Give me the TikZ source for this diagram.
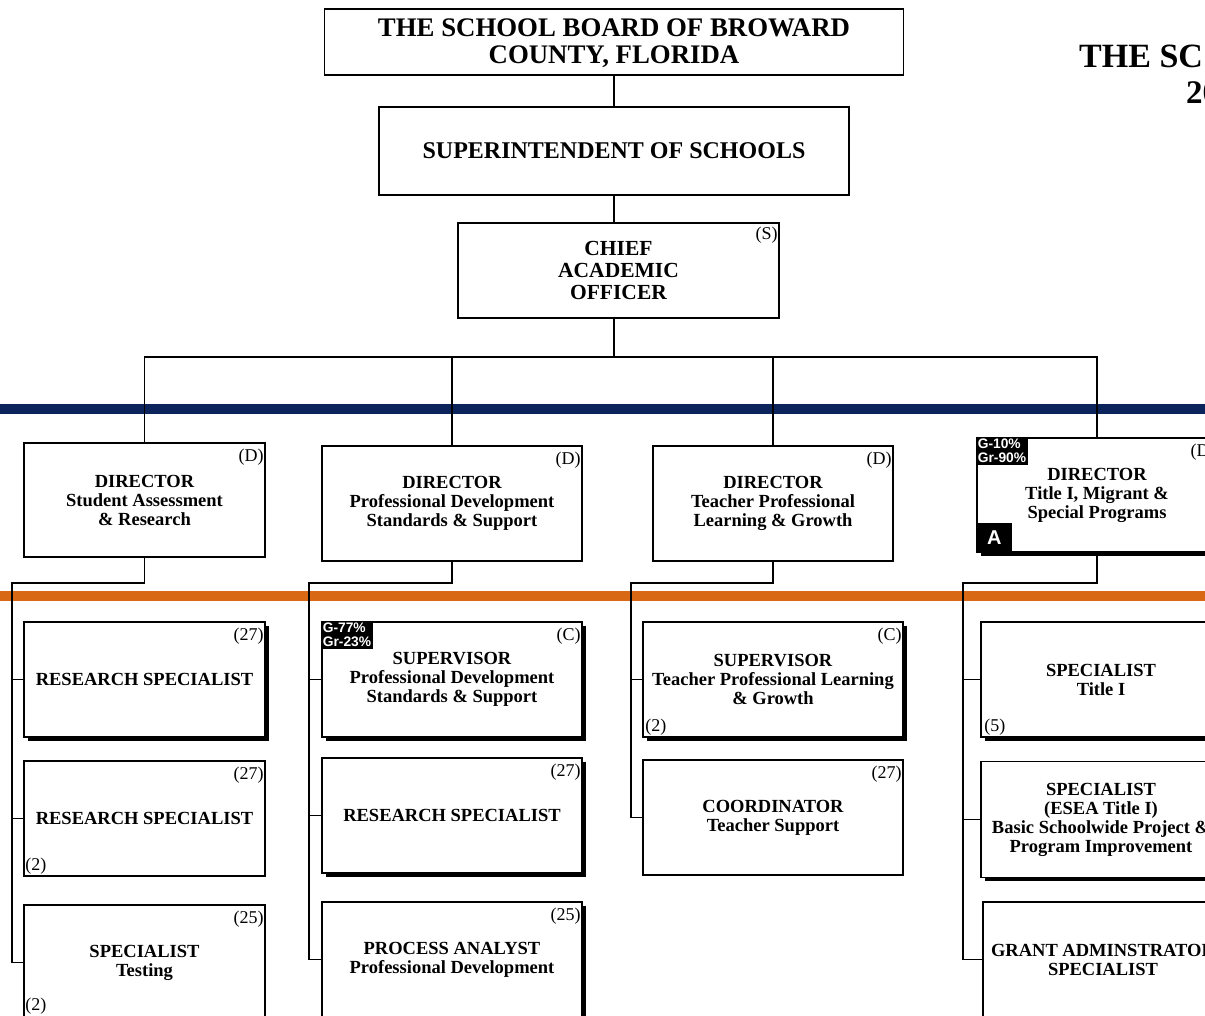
\documentclass[tikz,border=0pt]{standalone}
\usepackage{fontspec}
\setmainfont{Liberation Serif}
\newfontfamily\lsans{Liberation Sans}
\usetikzlibrary{shadows}
\definecolor{navyband}{RGB}{12,36,92}
\definecolor{orangeband}{RGB}{217,104,20}
\tikzset{
  bx/.style={draw, line width=1.8pt, fill=white, inner sep=0pt, align=center,
    font=\bfseries\fontsize{18.5}{19}\selectfont},
  shd/.style={drop shadow={shadow xshift=3.5pt, shadow yshift=-3.5pt, fill=black, opacity=1}},
  tag/.style={inner xsep=2pt, inner ysep=2pt, font=\fontsize{18}{18}\selectfont},
  tagtr/.style={tag, anchor=north east, yshift=-5pt},
  tagbl/.style={tag, anchor=south west},
  conn/.style={line width=1.8pt},
  pct/.style={fill=black, text=white, inner xsep=1.5pt, inner ysep=1.5pt, align=left,
    font=\lsans\bfseries\fontsize{13.8}{14.5}\selectfont},
  abox/.style={fill=black, text=white, minimum width=36pt, minimum height=30pt, inner sep=0pt,
    font=\lsans\bfseries\fontsize{20}{20}\selectfont},
}
\begin{document}
\begin{tikzpicture}[x=1pt,y=-1pt]
\useasboundingbox (0,0) rectangle (1205,1016);
\clip (0,0) rectangle (1205,1016);
\fill[white] (0,0) rectangle (1205,1016);

% colour bands
\fill[navyband] (0,403.5) rectangle (1205,413.5);
\fill[orangeband] (0,591) rectangle (1205,601);

% top title (cut off at the right edge)
\node[anchor=west, inner sep=0pt, font=\bfseries\fontsize{34}{34}\selectfont] (ttl1) at (1079,56) {THE SC};
\node[anchor=west, inner sep=0pt, font=\bfseries\fontsize{33}{33}\selectfont] (ttl2) at (1186,93) {20};

% top chain
\node[bx, minimum width=579, minimum height=66] (board) at (614,42) {};
\node[inner sep=0pt, align=center, font=\bfseries\fontsize{26.8}{27}\selectfont] (boardtxt) at (614,43.5)
  {THE SCHOOL BOARD OF BROWARD\\COUNTY, FLORIDA};
\node[bx, minimum width=470, minimum height=88, font=\bfseries\fontsize{24}{26}\selectfont] (supt) at (614,151)
  {SUPERINTENDENT OF SCHOOLS};
\node[bx, minimum width=321, minimum height=95, font=\bfseries\fontsize{21.5}{22}\selectfont] (cao) at (618.5,270.5)
  {CHIEF\\ACADEMIC\\OFFICER};
\node[tag, anchor=north east, yshift=-3pt] (caot) at (cao.north east) {(S)};

% directors
\node[bx, minimum width=241, minimum height=114] (d1) at (144.5,500)
  {DIRECTOR\\Student Assessment\\\& Research};
\node[tagtr] (d1t) at (d1.north east) {(D)};
\node[bx, minimum width=260, minimum height=115] (d2) at (452,503.5)
  {DIRECTOR\\Professional Development\\Standards \& Support};
\node[tagtr] (d2t) at (d2.north east) {(D)};
\node[bx, minimum width=240, minimum height=115] (d3) at (773,503.5)
  {DIRECTOR\\Teacher Professional\\Learning \& Growth};
\node[tagtr] (d3t) at (d3.north east) {(D)};
\node[bx, shd, minimum width=240, minimum height=114] (d4) at (1097,495)
  {DIRECTOR\\Title I, Migrant \&\\Special Programs};
\node[tagtr] (d4t) at (d4.north east) {(D)};
\node[pct, anchor=north west] (d4p) at (d4.north west) {G-10\%\\Gr-90\%};
\node[abox, anchor=south west] (d4a) at (d4.south west) {A};

% column 1 children
\node[bx, shd, minimum width=241, minimum height=115] (c11) at (144.5,679.5) {RESEARCH SPECIALIST};
\node[tagtr] (c11t) at (c11.north east) {(27)};
\node[bx, minimum width=241, minimum height=115] (c12) at (144.5,818.5) {RESEARCH SPECIALIST};
\node[tagtr] (c12t) at (c12.north east) {(27)};
\node[tagbl] (c12b) at (c12.south west) {(2)};
\node[bx, minimum width=241, minimum height=115] (c13) at (144.5,962.5) {SPECIALIST\\Testing};
\node[tagtr] (c13t) at (c13.north east) {(25)};
\node[tagbl, yshift=4pt] (c13b) at (c13.south west) {(2)};

% column 2 children
\node[bx, shd, minimum width=260, minimum height=115] (c21) at (452,679.5)
  {SUPERVISOR\\Professional Development\\Standards \& Support};
\node[tagtr] (c21t) at (c21.north east) {(C)};
\node[pct, anchor=north west] (c21p) at (c21.north west) {G-77\%\\Gr-23\%};
\node[bx, shd, minimum width=260, minimum height=115] (c22) at (452,815.5) {RESEARCH SPECIALIST};
\node[tagtr] (c22t) at (c22.north east) {(27)};
\node[bx, shd, minimum width=260, minimum height=115] (c23) at (452,959.5)
  {PROCESS ANALYST\\Professional Development};
\node[tagtr] (c23t) at (c23.north east) {(25)};

% column 3 children
\node[bx, shd, minimum width=260, minimum height=115] (c31) at (773,679.5)
  {SUPERVISOR\\Teacher Professional Learning\\\& Growth};
\node[tagtr] (c31t) at (c31.north east) {(C)};
\node[tagbl, inner xsep=3pt] (c31b) at (c31.south west) {(2)};
\node[bx, minimum width=260, minimum height=115] (c32) at (773,817.5)
  {COORDINATOR\\Teacher Support};
\node[tagtr] (c32t) at (c32.north east) {(27)};

% column 4 children
\node[bx, shd, minimum width=240, minimum height=115] (c41) at (1101,679.5) {SPECIALIST\\Title I};
\node[tagtr] (c41t) at (c41.north east) {(2};
\node[tagbl, inner xsep=4pt] (c41b) at (c41.south west) {(5)};
\node[bx, shd, minimum width=240, minimum height=116] (c42) at (1101,819.5)
  {SPECIALIST\\(ESEA Title I)\\Basic Schoolwide Project \&\\Program Improvement};
\node[tagtr] (c42t) at (c42.north east) {(2};
\node[bx, minimum width=240, minimum height=115] (c43) at (1103,959.5)
  {GRANT ADMINSTRATOR\\SPECIALIST};
\node[tagtr] (c43t) at (c43.north east) {(2};

% connectors, top chain
\coordinate (bus) at (614,357);
\draw[conn] (board.south) -- (supt.north);
\draw[conn] (supt.south) -- (supt.south |- cao.north);
\draw[conn] (supt.south |- cao.south) -- (bus);
\draw[conn] (d1.north) |- (bus) -| (d4.north);
\draw[conn] (d2.north) -- (d2.north |- bus);
\draw[conn] (d3.north) -- (d3.north |- bus);

% connectors, children
\coordinate (j1) at (12,583);
\coordinate (j2) at (309,583);
\coordinate (j3) at (631,583);
\coordinate (j4) at (963,583);
\draw[conn] (d1.south) |- (j1) |- (c13.west);
\draw[conn] (j1 |- c11.west) -- (c11.west);
\draw[conn] (j1 |- c12.west) -- (c12.west);
\draw[conn] (d2.south) |- (j2) |- (c23.west);
\draw[conn] (j2 |- c21.west) -- (c21.west);
\draw[conn] (j2 |- c22.west) -- (c22.west);
\draw[conn] (d3.south) |- (j3) |- (c32.west);
\draw[conn] (j3 |- c31.west) -- (c31.west);
\draw[conn] (d4.south) |- (j4) |- (c43.west);
\draw[conn] (j4 |- c41.west) -- (c41.west);
\draw[conn] (j4 |- c42.west) -- (c42.west);
\end{tikzpicture}
\end{document}
